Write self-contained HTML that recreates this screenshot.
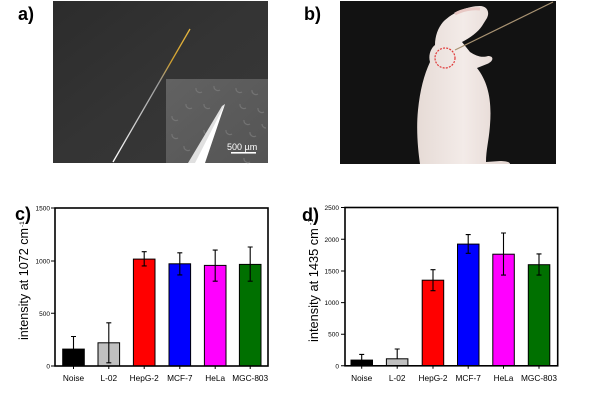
<!DOCTYPE html>
<html><head><meta charset="utf-8"><style>
html,body{margin:0;padding:0;background:#fff;}
svg{display:block;}
text{font-family:"Liberation Sans",Arial,sans-serif;}
</style></head><body>
<svg width="600" height="402" viewBox="0 0 600 402" xmlns="http://www.w3.org/2000/svg">
<defs>
<linearGradient id="ga" x1="0" y1="0" x2="1" y2="1">
<stop offset="0" stop-color="#2c2c2c"/><stop offset="0.5" stop-color="#343434"/><stop offset="1" stop-color="#383838"/>
</linearGradient>
<linearGradient id="gi" x1="0" y1="0" x2="1" y2="1">
<stop offset="0" stop-color="#626262"/><stop offset="1" stop-color="#545454"/>
</linearGradient>
<linearGradient id="gn" x1="0" y1="1" x2="0" y2="0">
<stop offset="0" stop-color="#ffffff"/><stop offset="0.4" stop-color="#bbbbbb"/><stop offset="0.6" stop-color="#999"/><stop offset="0.75" stop-color="#d0a030"/><stop offset="1" stop-color="#e8b840"/>
</linearGradient>
<linearGradient id="gm" x1="0" y1="0" x2="1" y2="0">
<stop offset="0" stop-color="#e6dbd6"/><stop offset="0.5" stop-color="#f3ebe8"/><stop offset="1" stop-color="#e2d4cf"/>
</linearGradient>
</defs>

<!-- panel a -->
<text x="18" y="20" font-size="18" font-weight="bold">a)</text>
<rect x="53" y="1" width="215" height="162" fill="url(#ga)"/>
<line x1="113" y1="162" x2="190" y2="29" stroke="url(#gn)" stroke-width="1.3"/>
<rect x="166" y="79" width="102" height="84" fill="url(#gi)"/>
<g fill="none" stroke="#7a7a7a" stroke-width="1.2" opacity="0.8">
<path d="M196 88 a4 4 0 0 0 6 4"/><path d="M214 86 a4 4 0 0 0 6 4"/><path d="M236 88 a4 4 0 0 0 6 4"/><path d="M252 90 a4 4 0 0 0 6 4"/>
<path d="M186 104 a4 4 0 0 0 6 4"/><path d="M204 104 a4 4 0 0 0 6 4"/><path d="M240 104 a4 4 0 0 0 6 4"/><path d="M258 108 a4 4 0 0 0 6 4"/>
<path d="M172 116 a4 4 0 0 0 6 4"/><path d="M244 120 a4 4 0 0 0 6 4"/><path d="M262 124 a4 4 0 0 0 4 4"/>
<path d="M172 134 a4 4 0 0 0 6 4"/><path d="M204 130 a4 4 0 0 0 6 4"/><path d="M226 130 a4 4 0 0 0 6 4"/><path d="M250 132 a4 4 0 0 0 6 4"/>
<path d="M184 146 a4 4 0 0 0 6 4"/><path d="M244 158 a4 4 0 0 0 6 4"/>
</g>
<polygon points="188,163 222,106 225,104 223,110 200,163" fill="#e0e0e0"/>
<polygon points="195,163 223,108 225,104 205,163" fill="#ffffff"/>
<text x="227" y="150" font-size="9" fill="#fff">500 µm</text>
<rect x="231" y="152" width="25" height="1.6" fill="#fff"/>

<!-- panel b -->
<text x="304" y="20" font-size="18" font-weight="bold">b)</text>
<rect x="340" y="1" width="216" height="163" fill="#121212"/>
<path d="M480 6 C487 6 490 12 487 18 L482 26 C478 32 470 38 462 42 L470 52 C476 56 482 58 488 56 C494 56 494 61 487 64 L477 68 C488 82 492 100 490 125 C489 140 486 150 486 162 L500 161 C506 161 510 162 510 164 L420 164 C418 150 416 130 418 110 C420 90 424 75 430 62 C428 55 431 48 435 45 C435 36 438 28 443 22 C453 12 468 6 480 6 Z" fill="url(#gm)"/>
<path d="M455 14 C462 10 472 8 480 9" stroke="#e8c8c4" stroke-width="3" fill="none"/>
<line x1="455" y1="50" x2="553" y2="2" stroke="#a89272" stroke-width="1.2"/>
<circle cx="445" cy="58" r="10" fill="none" stroke="#e03838" stroke-width="1.2" stroke-dasharray="2,1.2"/>

<!-- panel c -->
<text x="15" y="220" font-size="18" font-weight="bold">c)</text>
<g stroke="#000" stroke-width="1">
<rect x="62.7" y="349.1" width="21.6" height="16.9" fill="#000"/>
<rect x="98" y="342.8" width="21.6" height="23.2" fill="#c0c0c0"/>
<rect x="133.4" y="259.1" width="21.6" height="106.9" fill="#ff0000"/>
<rect x="169" y="263.8" width="21.6" height="102.2" fill="#0000ff"/>
<rect x="204.4" y="265.4" width="21.6" height="100.6" fill="#ff00ff"/>
<rect x="239.4" y="264.4" width="21.6" height="101.6" fill="#007000"/>
</g>
<g stroke="#000" stroke-width="1.1" fill="none">
<path d="M73.5 349 V336.5 M71 336.5 h5"/>
<path d="M108.8 362.8 V322.8 M106.3 362.8 h5 M106.3 322.8 h5"/>
<path d="M144.2 265.9 V251.7 M141.7 265.9 h5 M141.7 251.7 h5"/>
<path d="M179.8 274.9 V252.8 M177.3 274.9 h5 M177.3 252.8 h5"/>
<path d="M215.2 281.2 V250.1 M212.7 281.2 h5 M212.7 250.1 h5"/>
<path d="M250.2 281.2 V247 M247.7 281.2 h5 M247.7 247 h5"/>
</g>
<rect x="55" y="208" width="213" height="158" fill="none" stroke="#000" stroke-width="1.6"/>
<g stroke="#000" stroke-width="1">
<path d="M51 208 h4 M51 261 h4 M51 313.3 h4 M51 366 h4"/>
<path d="M73.5 366 v3 M108.8 366 v3 M144.2 366 v3 M179.8 366 v3 M215.2 366 v3 M250.2 366 v3"/>
</g>
<g font-size="6.5" text-anchor="end">
<text x="50" y="210.5">1500</text><text x="50" y="263.5">1000</text><text x="50" y="315.8">500</text><text x="50" y="368.5">0</text>
</g>
<g font-size="8.3" text-anchor="middle">
<text x="73.5" y="381">Noise</text><text x="108.8" y="381">L-02</text><text x="144.2" y="381">HepG-2</text><text x="179.8" y="381">MCF-7</text><text x="215.2" y="381">HeLa</text><text x="250.2" y="381">MGC-803</text>
</g>
<text transform="translate(28,340) rotate(-90)" font-size="12.6">intensity at 1072 cm</text>
<text transform="translate(24,227) rotate(-90)" font-size="6.5">-1</text>

<!-- panel d -->
<text x="302" y="221" font-size="18" font-weight="bold">d)</text>
<g stroke="#000" stroke-width="1">
<rect x="351" y="360.1" width="21.5" height="5.7" fill="#000"/>
<rect x="386.4" y="358.8" width="21.5" height="7" fill="#c0c0c0"/>
<rect x="422.2" y="280.2" width="21.5" height="85.6" fill="#ff0000"/>
<rect x="457.5" y="244.1" width="21.5" height="121.7" fill="#0000ff"/>
<rect x="492.8" y="254.2" width="21.5" height="111.6" fill="#ff00ff"/>
<rect x="528.3" y="264.7" width="21.5" height="101.1" fill="#007000"/>
</g>
<g stroke="#000" stroke-width="1.1" fill="none">
<path d="M361.7 360 V354.4 M359.2 354.4 h5"/>
<path d="M397.2 358.8 V349 M394.7 349 h5"/>
<path d="M433 290.7 V269.7 M430.5 290.7 h5 M430.5 269.7 h5"/>
<path d="M468.2 253.3 V234.6 M465.7 253.3 h5 M465.7 234.6 h5"/>
<path d="M503.5 275.1 V233 M501 275.1 h5 M501 233 h5"/>
<path d="M539 275.1 V253.9 M536.5 275.1 h5 M536.5 253.9 h5"/>
</g>
<rect x="345" y="207.5" width="212.7" height="158.3" fill="none" stroke="#000" stroke-width="1.6"/>
<g stroke="#000" stroke-width="1">
<path d="M341 207.5 h4 M341 239.3 h4 M341 271 h4 M341 302.6 h4 M341 334.2 h4 M341 365.8 h4"/>
<path d="M361.7 365.8 v3 M397.2 365.8 v3 M433 365.8 v3 M468.2 365.8 v3 M503.5 365.8 v3 M539 365.8 v3"/>
</g>
<g font-size="6.5" text-anchor="end">
<text x="339" y="210">2500</text><text x="339" y="241.8">2000</text><text x="339" y="273.5">1500</text><text x="339" y="305.1">1000</text><text x="339" y="336.7">500</text><text x="339" y="368.3">0</text>
</g>
<g font-size="8.3" text-anchor="middle">
<text x="361.7" y="381">Noise</text><text x="397.2" y="381">L-02</text><text x="433" y="381">HepG-2</text><text x="468.2" y="381">MCF-7</text><text x="503.5" y="381">HeLa</text><text x="539" y="381">MGC-803</text>
</g>
<text transform="translate(318,342) rotate(-90)" font-size="12.8">intensity at 1435 cm</text>
<text transform="translate(313,225) rotate(-90)" font-size="7">-1</text>
</svg>
</body></html>
